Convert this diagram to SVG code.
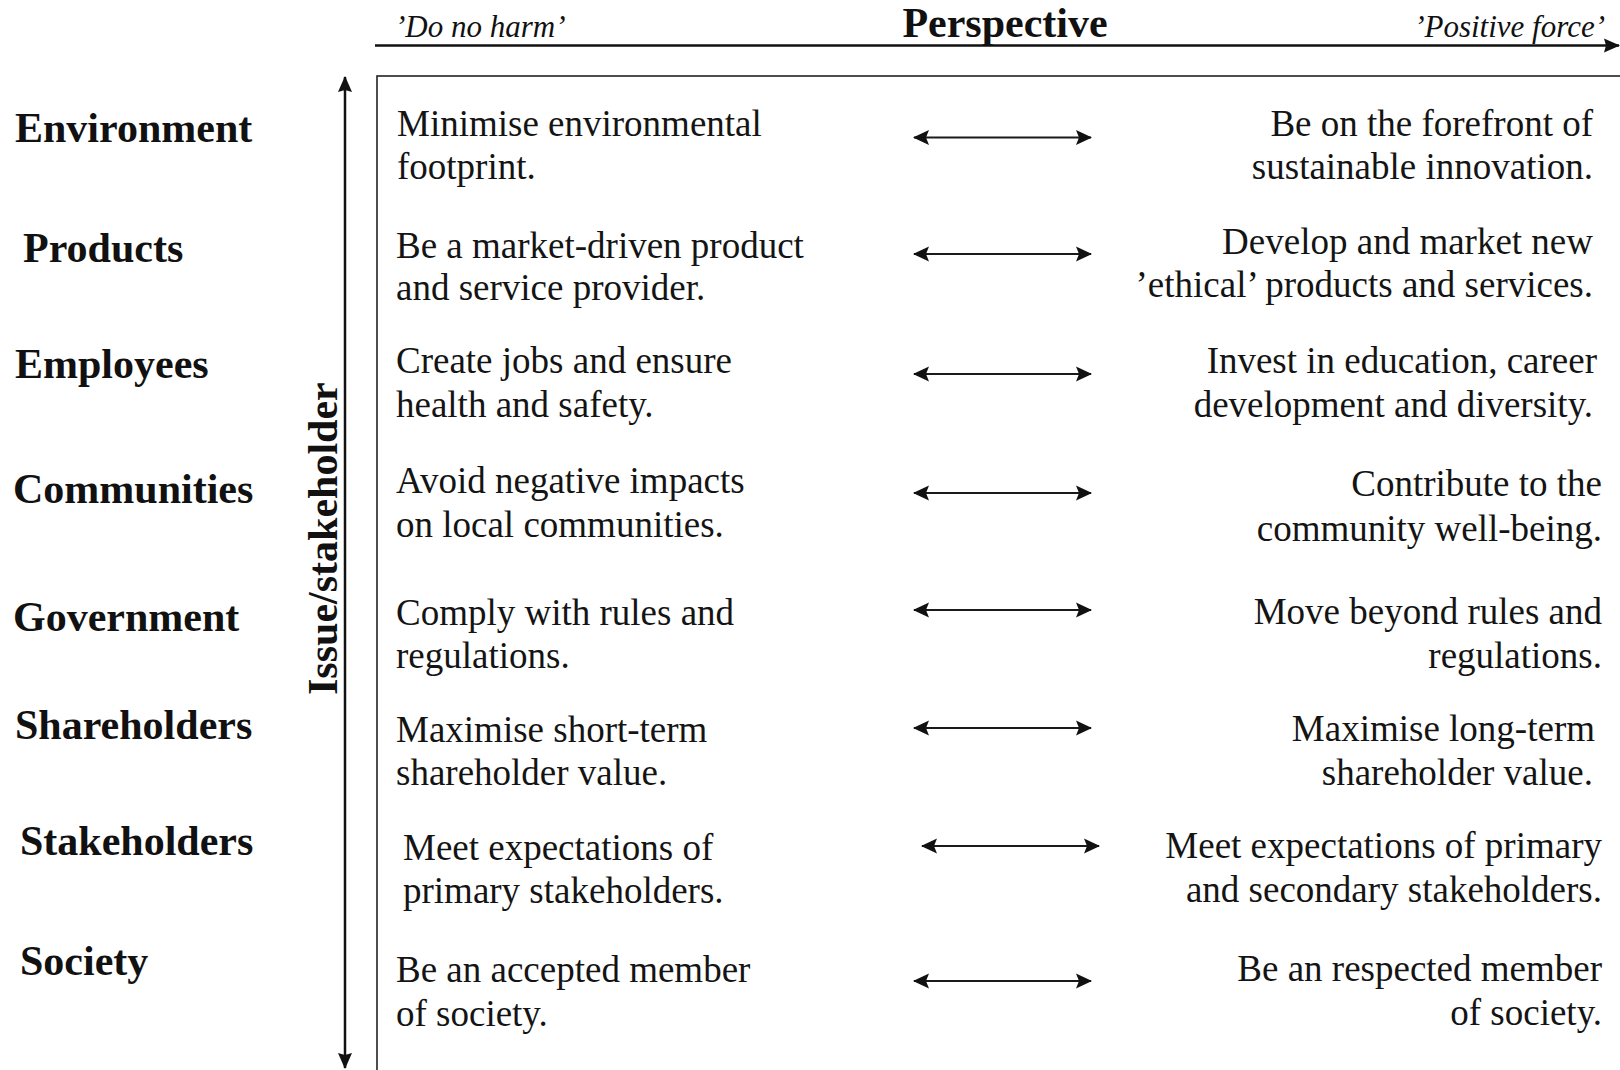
<svg xmlns="http://www.w3.org/2000/svg" width="1620" height="1070" viewBox="0 0 1620 1070">
<style>
  .lbl { font-family: "Liberation Serif", "Times New Roman", serif; font-weight: bold; font-size: 42px; fill: #111; }
  .ttl { font-family: "Liberation Serif", "Times New Roman", serif; font-weight: bold; font-size: 42px; fill: #111; }
  .ital { font-family: "Liberation Serif", "Times New Roman", serif; font-style: italic; font-size: 31px; fill: #111; }
  .txt { font-family: "Liberation Serif", "Times New Roman", serif; font-size: 37px; fill: #141414; }
  .r { text-anchor: end; }
  .conn { stroke: #1a1a1a; stroke-width: 2.2; fill: none; marker-start: url(#ah); marker-end: url(#ah); }
  .axis { stroke: #111; stroke-width: 2.5; fill: none; }
  .box { stroke: #222; stroke-width: 1.6; fill: none; }
</style>
<defs>
  <marker id="ah" viewBox="0 0 16 16" refX="15" refY="8" markerWidth="16" markerHeight="16" markerUnits="userSpaceOnUse" orient="auto-start-reverse">
    <path d="M0,0.5 L16,8 L0,15.5 L3,8 z" fill="#111"/>
  </marker>
  <marker id="axh" viewBox="0 0 16 16" refX="15" refY="8" markerWidth="16" markerHeight="16" markerUnits="userSpaceOnUse" orient="auto-start-reverse">
    <path d="M0,1 L16,8 L0,15 L2,8 z" fill="#111"/>
  </marker>
</defs>
<rect width="1620" height="1070" fill="#fff"/>

<g id="axes">
  <line class="axis" x1="375" y1="45.5" x2="1619" y2="45.5" marker-end="url(#axh)"/>
  <line class="axis" x1="345" y1="77" x2="345" y2="1068" marker-start="url(#axh)" marker-end="url(#axh)"/>
  <text class="ttl" x="1005" y="37" text-anchor="middle">Perspective</text>
  <text class="ital" x="395" y="37">’Do no harm’</text>
  <text class="ital r" x="1605" y="37">’Positive force’</text>
  <text class="lbl" transform="translate(337,695) rotate(-90)">Issue/stakeholder</text>
</g>

<rect class="box" x="377" y="76" width="1300" height="1100"/>

<g id="row-environment">
  <text class="lbl" x="15" y="142">Environment</text>
  <text class="txt" x="397" y="136">Minimise environmental</text>
  <text class="txt" x="397" y="179">footprint.</text>
  <text class="txt r" x="1593" y="136">Be on the forefront of</text>
  <text class="txt r" x="1593" y="179">sustainable innovation.</text>
</g>
<g id="row-products">
  <text class="lbl" x="23" y="262">Products</text>
  <text class="txt" x="396" y="258">Be a market-driven product</text>
  <text class="txt" x="396" y="300">and service provider.</text>
  <text class="txt r" x="1593" y="254">Develop and market new</text>
  <text class="txt r" x="1593" y="297">’ethical’ products and services.</text>
</g>
<g id="row-employees">
  <text class="lbl" x="15" y="378">Employees</text>
  <text class="txt" x="396" y="373">Create jobs and ensure</text>
  <text class="txt" x="396" y="417">health and safety.</text>
  <text class="txt r" x="1597" y="373">Invest in education, career</text>
  <text class="txt r" x="1593" y="417">development and diversity.</text>
</g>
<g id="row-communities">
  <text class="lbl" x="13" y="503">Communities</text>
  <text class="txt" x="396" y="493">Avoid negative impacts</text>
  <text class="txt" x="396" y="537">on local communities.</text>
  <text class="txt r" x="1602" y="496">Contribute to the</text>
  <text class="txt r" x="1602" y="541">community well-being.</text>
</g>
<g id="row-government">
  <text class="lbl" x="13" y="631">Government</text>
  <text class="txt" x="396" y="625">Comply with rules and</text>
  <text class="txt" x="396" y="668">regulations.</text>
  <text class="txt r" x="1602" y="624">Move beyond rules and</text>
  <text class="txt r" x="1602" y="668">regulations.</text>
</g>
<g id="row-shareholders">
  <text class="lbl" x="15" y="739">Shareholders</text>
  <text class="txt" x="396" y="742">Maximise short-term</text>
  <text class="txt" x="396" y="785">shareholder value.</text>
  <text class="txt r" x="1595" y="741">Maximise long-term</text>
  <text class="txt r" x="1593" y="785">shareholder value.</text>
</g>
<g id="row-stakeholders">
  <text class="lbl" x="20" y="855">Stakeholders</text>
  <text class="txt" x="403" y="860">Meet expectations of</text>
  <text class="txt" x="403" y="903">primary stakeholders.</text>
  <text class="txt r" x="1602" y="858">Meet expectations of primary</text>
  <text class="txt r" x="1602" y="902">and secondary stakeholders.</text>
</g>
<g id="row-society">
  <text class="lbl" x="20" y="975">Society</text>
  <text class="txt" x="396" y="982">Be an accepted member</text>
  <text class="txt" x="396" y="1026">of society.</text>
  <text class="txt r" x="1602" y="981">Be an respected member</text>
  <text class="txt r" x="1602" y="1025">of society.</text>
</g>

<g id="connectors">
  <line class="conn" x1="914" y1="137.5" x2="1091" y2="137.5"/>
  <line class="conn" x1="914" y1="254" x2="1091" y2="254"/>
  <line class="conn" x1="914" y1="374" x2="1091" y2="374"/>
  <line class="conn" x1="914" y1="493" x2="1091" y2="493"/>
  <line class="conn" x1="914" y1="610" x2="1091" y2="610"/>
  <line class="conn" x1="914" y1="728" x2="1091" y2="728"/>
  <line class="conn" x1="922" y1="846" x2="1099" y2="846"/>
  <line class="conn" x1="914" y1="981" x2="1091" y2="981"/>
</g>
</svg>
